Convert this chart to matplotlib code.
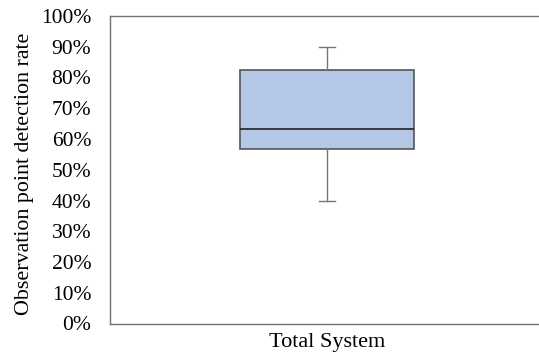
import matplotlib
matplotlib.use("Agg")
import matplotlib.pyplot as plt
from matplotlib.ticker import PercentFormatter

categories = ["Total System"]
whisker_low = [0.398]
q1 = [0.566]
median = [0.632]
q3 = [0.824]
whisker_high = [0.898]

plt.rcParams['font.family'] = ['Liberation Serif', 'DejaVu Serif']

fig = plt.figure(figsize=(5.39, 3.56), dpi=100)
ax = fig.add_axes([110/539, 1-323.5/356, 434/539, (323.5-16)/356])

stats = []
for i, c in enumerate(categories):
    stats.append(dict(label=c, whislo=whisker_low[i], q1=q1[i], med=median[i],
                      q3=q3[i], whishi=whisker_high[i], fliers=[]))

ax.bxp(stats, positions=[1], widths=0.4, patch_artist=True, showfliers=False,
       boxprops=dict(facecolor='#B4C7E7', edgecolor='#555555', linewidth=1.2),
       medianprops=dict(color='#222222', linewidth=1.2),
       whiskerprops=dict(color='#777777', linewidth=1.0),
       capprops=dict(color='#777777', linewidth=1.0),
       capwidths=0.035)

ax.set_xlim(0.5, 1.5)
ax.set_ylim(0, 1)
ax.set_yticks([i/10 for i in range(11)])
ax.yaxis.set_major_formatter(PercentFormatter(1.0, decimals=0))
ax.tick_params(axis='y', length=0, labelsize=15.5, pad=13.5)
ax.tick_params(axis='x', length=0, labelsize=16, pad=7)
ax.set_ylabel("Observation point detection rate", fontsize=15.8, labelpad=5)
ax.yaxis.label.set_y(0.486)
for s in ['left', 'bottom', 'top']:
    ax.spines[s].set_color('#707070')
    ax.spines[s].set_linewidth(1.0)
ax.spines['right'].set_visible(False)

fig.savefig("out.png", dpi=100)
